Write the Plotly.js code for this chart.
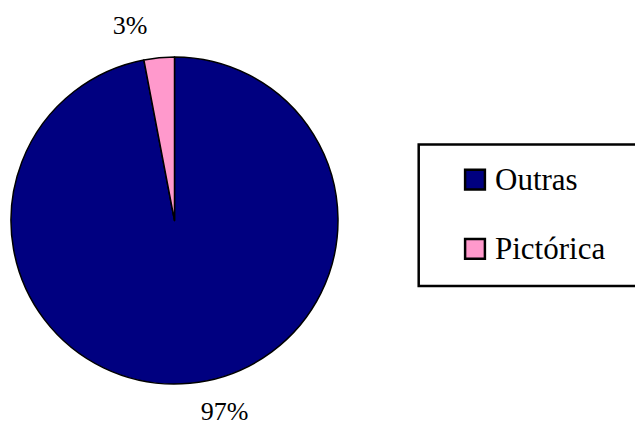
<!DOCTYPE html>
<html><head><meta charset="utf-8">
<script src="https://cdn.plot.ly/plotly-3.0.1.min.js"></script>
<style>
html,body{margin:0;padding:0;background:#fff;}
.legendpie{transform:translate(20px,0px) scale(1.65);transform-box:view-box;transform-origin:0 0;}
</style>
</head><body><div id="chart" style="width:635px;height:425px;"></div>
<script>
const categories = ['Outras', 'Pictórica'];
const values = [97, 3];
const sliceColors = ['#000080', '#FF99CC'];

const SERIF = '"Liberation Serif", "Times New Roman", serif';
const legendLabels = categories.map(c =>
  "<span style=\"font-family:'Liberation Serif',serif;font-size:31px;baseline-shift:10px\">" + c + '</span>');
const pctSpan = '<span style="font-size:26px">%{percent:.0%}</span>';
// spacer line pushes each outside label further from the pie
const textTemplates = ['\u00a0<br>' + pctSpan, pctSpan + '<br>\u00a0'];

const W = 635, H = 425;
const data = [{
  type: 'pie',
  labels: legendLabels,
  values: values,
  sort: false,
  direction: 'clockwise',
  rotation: 0,
  marker: {colors: sliceColors, line: {color: '#000', width: 1.5}},
  texttemplate: textTemplates,
  textposition: 'outside',
  textfont: {size: [17, 16], color: '#000', family: SERIF},
  domain: {x: [11 / W, 338 / W], y: [41 / H, 368 / H]},
  hoverinfo: 'none'
}];
const layout = {
  width: W, height: H,
  margin: {l: 0, r: 0, t: 0, b: 0},
  paper_bgcolor: '#fff',
  font: {family: SERIF, color: '#000'},
  showlegend: true,
  legend: {x: 455 / W, xanchor: 'left', y: (H - 140) / H, yanchor: 'top',
           font: {size: 51, family: SERIF, color: '#000'}, bgcolor: 'rgba(0,0,0,0)', borderwidth: 0},
  shapes: [{type: 'rect', xref: 'paper', yref: 'paper', layer: 'below',
            x0: 418.7 / W, x1: 1.05, y0: (H - 286) / H, y1: (H - 144.5) / H,
            line: {color: '#000', width: 2.5}}]
};
Plotly.newPlot('chart', data, layout, {displayModeBar: false, staticPlot: true});
</script></body></html>
